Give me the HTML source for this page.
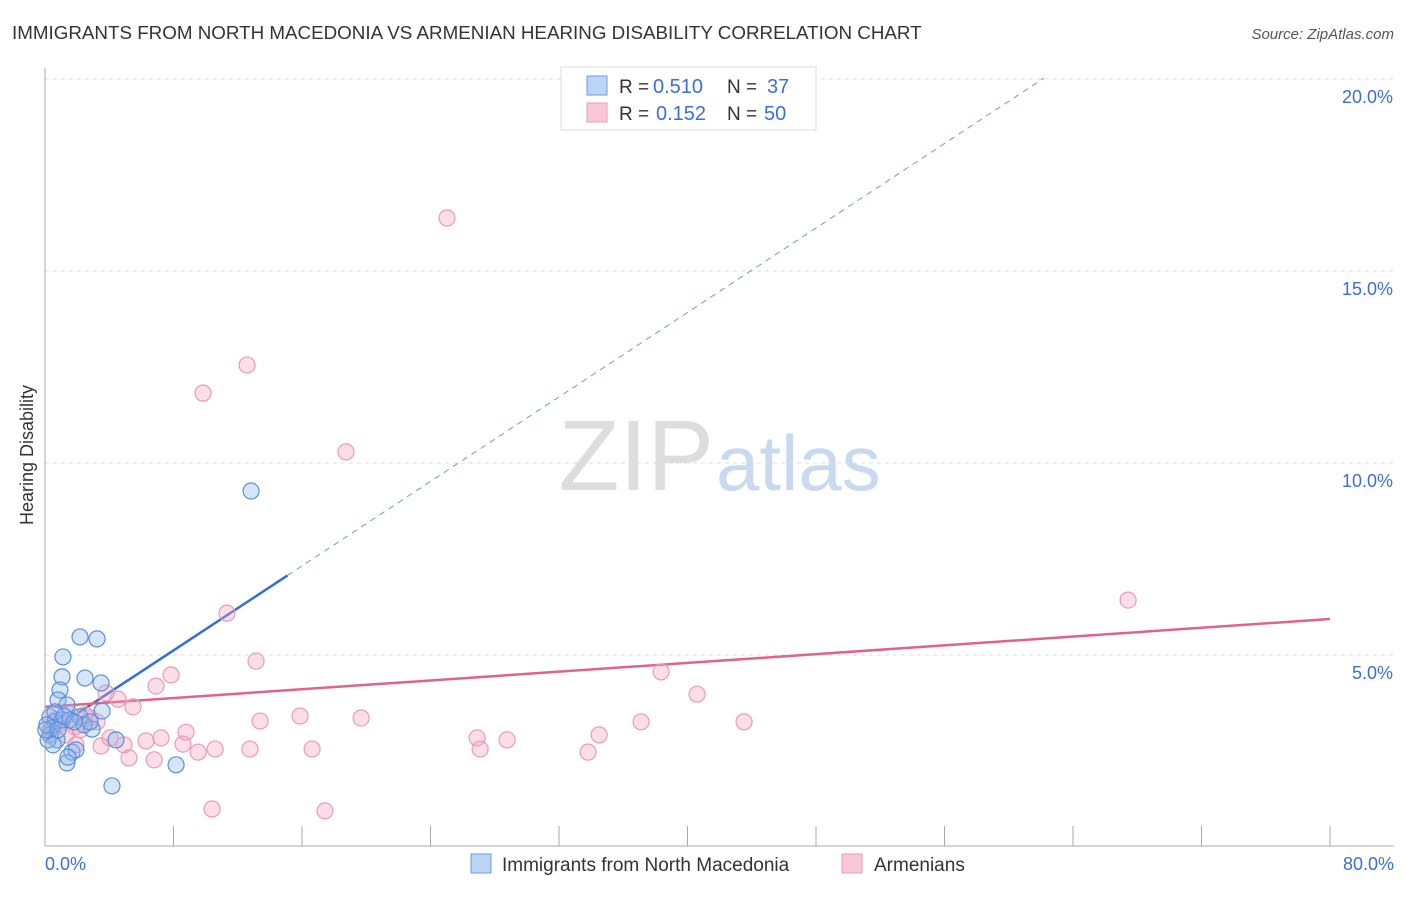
<!DOCTYPE html>
<html><head><meta charset="utf-8"><style>
body{margin:0;background:#fff;font-family:"Liberation Sans",sans-serif}
svg text{font-family:"Liberation Sans",sans-serif}
</style></head><body>
<svg id="chart" width="1406" height="892" viewBox="0 0 1406 892">
<text x="12" y="39" font-size="18.8" fill="#333">IMMIGRANTS FROM NORTH MACEDONIA VS ARMENIAN HEARING DISABILITY CORRELATION CHART</text>
<text x="1394" y="39" font-size="15" fill="#555" font-style="italic" text-anchor="end">Source: ZipAtlas.com</text>
<text x="33" y="455" font-size="18" fill="#333" text-anchor="middle" transform="rotate(-90 33 455)">Hearing Disability</text>
<text x="714" y="490" font-size="100" fill="#ddd" font-family="Liberation Serif" text-anchor="end">ZIP</text>
<text x="716" y="490" font-size="78" fill="#c9daf0">atlas</text>
<g id="grid"></g><g id="ticks"></g><g id="lines"></g><g id="points"></g>
<line x1="45" y1="68" x2="45" y2="846" stroke="#aaa"/>
<line x1="45" y1="846" x2="1394" y2="846" stroke="#aaa"/>
<text x="45" y="870" font-size="18" fill="#3a6fd8">0.0%</text>
<text x="1394" y="870" font-size="18" fill="#3a6fd8" text-anchor="end">80.0%</text>
<g>
<rect x="561" y="67" width="255" height="63" fill="#fff" stroke="#ddd"/>
<rect x="587" y="76" width="20" height="19" fill="#bcd4f5" stroke="#6a9be0"/>
<rect x="587" y="103" width="20" height="19" fill="#f9c8d7" stroke="#ec9cb6"/>
<text x="619" y="93" font-size="19" fill="#333">R =</text>
<text x="653" y="93" font-size="20" fill="#3a6fd8">0.510</text>
<text x="727" y="93" font-size="19" fill="#333">N =</text>
<text x="767" y="93" font-size="20" fill="#3a6fd8">37</text>
<text x="619" y="120" font-size="19" fill="#333">R =</text>
<text x="656" y="120" font-size="20" fill="#3a6fd8">0.152</text>
<text x="727" y="120" font-size="19" fill="#333">N =</text>
<text x="764" y="120" font-size="20" fill="#3a6fd8">50</text>
</g>
<g>
<rect x="471" y="854" width="20" height="19" fill="#bcd4f5" stroke="#6a9be0"/>
<text x="502" y="871" font-size="19" fill="#333">Immigrants from North Macedonia</text>
<rect x="842" y="854" width="20" height="19" fill="#f9c8d7" stroke="#ec9cb6"/>
<text x="874" y="871" font-size="19" fill="#333">Armenians</text>
</g>
</svg>
<script>
const yTicks=[5,10,15,20];
const xTicks=[0,8,16,24,32,40,48,56,64,72,80];
const blueX=[2.18,3.24,1.12,2.49,1.06,3.49,0.93,0.81,1.37,3.55,2.18,0.31,0.62,0.44,0.31,0.75,2.93,4.42,1.68,1.93,1.37,1.43,4.17,8.16,12.83,0.12,0.19,1.06,1.56,0.62,0.05,0.81,1.18,2.43,1.81,2.80,0.50];
const blueY=[5.47,5.42,4.95,4.40,4.43,4.27,4.09,3.83,3.70,3.54,3.39,3.39,3.26,3.10,2.92,2.79,3.07,2.79,2.47,2.53,2.19,2.34,1.59,2.14,9.27,3.18,2.79,3.31,3.31,3.52,3.05,3.05,3.41,3.18,3.26,3.26,2.66];
const pinkX=[25.03,12.58,9.84,18.74,67.43,11.33,13.14,7.85,38.36,6.91,40.60,5.48,4.55,3.80,15.88,19.68,13.39,37.11,43.52,8.78,7.22,26.90,28.77,34.50,6.29,8.59,4.92,3.49,10.59,12.76,16.63,27.09,9.53,5.23,6.79,33.81,10.40,17.43,1.87,2.80,0.62,1.56,1.06,2.18,3.24,0.31,2.49,1.31,1.93,4.05];
const pinkY=[16.38,12.55,11.82,10.29,6.43,6.09,4.84,4.48,4.56,4.19,3.98,3.65,3.85,4.01,3.41,3.36,3.28,3.26,3.26,2.99,2.84,2.84,2.79,2.92,2.76,2.68,2.66,2.63,2.55,2.55,2.55,2.55,2.47,2.32,2.27,2.47,0.99,0.94,3.13,3.36,3.31,3.46,3.23,3.05,3.26,3.05,3.44,2.92,2.66,2.84];
const blueFit=[2.92,0.275];
const pinkFit=[3.65,0.0286];
const sx=v=>45+v*1285/80;
const sy=v=>847-v*38.4;
const NS='http://www.w3.org/2000/svg';
function mk(tag,attrs,parent){const e=document.createElementNS(NS,tag);for(const k in attrs)e.setAttribute(k,attrs[k]);document.getElementById(parent).appendChild(e);return e;}
yTicks.forEach(t=>{
 const l=mk('line',{x1:45,x2:1394,y1:sy(t),y2:sy(t),stroke:'#ddd','stroke-dasharray':'4,4'},'grid');
 
 
 const tx=mk('text',{x:1393,y:sy(t)+24,'font-size':18,fill:'#3a6fd8','text-anchor':'end'},'grid');
 tx.textContent=t.toFixed(1)+'%';
 
 
});
xTicks.forEach(t=>{
 const l=mk('line',{x1:sx(t),x2:sx(t),y1:826,y2:846,stroke:'#aaa'},'ticks');
 
 
});
const bx1=15.1, bx2=62.2;
let l1=mk('line',{x1:sx(0),y1:sy(blueFit[0]),x2:sx(bx1),y2:sy(blueFit[0]+blueFit[1]*bx1),stroke:'#2f6fd6','stroke-width':2.5},'lines');


let l2=mk('line',{x1:sx(bx1),y1:sy(blueFit[0]+blueFit[1]*bx1),x2:sx(bx2),y2:sy(blueFit[0]+blueFit[1]*bx2),stroke:'#6a9be0','stroke-width':1,'stroke-dasharray':'6,5'},'lines');


let l3=mk('line',{x1:sx(0),y1:sy(pinkFit[0]),x2:sx(80),y2:sy(pinkFit[0]+pinkFit[1]*80),stroke:'#e2628e','stroke-width':2.5},'lines');


pinkX.forEach((x,i)=>{
 const c=mk('circle',{cx:sx(x),cy:sy(pinkY[i]),r:8,fill:'rgba(244,160,188,0.35)',stroke:'#eb9ab5','stroke-width':1.2},'points');
 
 
});
blueX.forEach((x,i)=>{
 const c=mk('circle',{cx:sx(x),cy:sy(blueY[i]),r:8,fill:'rgba(140,180,235,0.35)',stroke:'#5b8fdc','stroke-width':1.2},'points');
 
 
});
</script>
</body></html>
